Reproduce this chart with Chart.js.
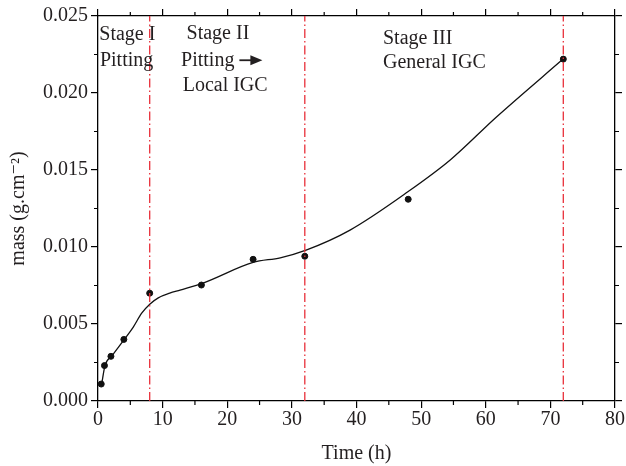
<!DOCTYPE html>
<html>
<head>
    <meta charset="utf-8">
    <title>Mass vs Time</title>
    <script src="https://cdn.jsdelivr.net/npm/chart.js@4.4.6/dist/chart.umd.min.js"></script>
    <style>
        html, body { margin: 0; padding: 0; background: #fff; }
        #wrap { width: 626px; height: 466px; }
    </style>
</head>
<body>
    <div id="wrap"><canvas id="myChart"></canvas></div>
    <script>
        // measured points
        const timeHours = [0.5, 1, 2, 4, 8, 16, 24, 32, 48, 72]
        const massValues = [0.0011, 0.0023, 0.0029, 0.0040, 0.0070, 0.00753, 0.0092, 0.0094, 0.0131, 0.0222]
        // fitted curve
        const curveTime = [0.57, 1.08, 2.1, 4.07, 5.46, 6.76, 8.05, 9.33, 11.1, 12.7, 16.25, 24.0, 28.2, 32.2, 39.0, 48.0, 54.5, 61.7, 72.1]
        const curveMass = [0.0011, 0.0023, 0.0029, 0.0040, 0.0048, 0.0057, 0.0063, 0.0067, 0.0070, 0.0072, 0.00766, 0.0090, 0.0093, 0.0098, 0.0111, 0.0136, 0.01565, 0.01846, 0.02225]
        // stage boundaries
        const stageBounds = [8, 32, 72]
        const xTicks = [0, 10, 20, 30, 40, 50, 60, 70, 80]
        const yTicks = [0, 0.005, 0.010, 0.015, 0.020, 0.025]

        const FONT = "'Liberation Serif', 'DejaVu Serif', serif"
        const RED = "rgb(232, 48, 58)"
        const INK = "#231f20"

        const stageText = [
            { text: "Stage I", x: 0.2, y: 0.02344 },
            { text: "Pitting", x: 0.3, y: 0.02177 },
            { text: "Stage II", x: 13.7, y: 0.02349 },
            { text: "Pitting", x: 12.85, y: 0.02177, arrow: true },
            { text: "Local IGC", x: 13.1, y: 0.02015 },
            { text: "Stage III", x: 44.1, y: 0.02316 },
            { text: "General IGC", x: 44.1, y: 0.02164 },
        ]

        const boundaryDatasets = stageBounds.map(b => ({
            type: "line",
            data: [{ x: b, y: 0 }, { x: b, y: 0.025 }],
            borderColor: RED,
            borderWidth: 1.3,
            borderDash: [9, 3, 1.5, 3],
            pointRadius: 0,
            fill: false,
        }))

        const extras = {
            id: "extras",
            afterDatasetsDraw(chart) {
                const ctx = chart.ctx
                const x = chart.scales.x
                const y = chart.scales.y
                const area = chart.chartArea
                ctx.save()
                // minor ticks
                ctx.strokeStyle = "#000"
                ctx.lineWidth = 1.2
                ctx.beginPath()
                for (let v = 5; v < 80; v += 10) {
                    const px = x.getPixelForValue(v)
                    ctx.moveTo(px, area.bottom); ctx.lineTo(px, area.bottom + 4)
                    ctx.moveTo(px, area.top); ctx.lineTo(px, area.top - 4)
                }
                for (let v = 0.0025; v < 0.025; v += 0.005) {
                    const py = y.getPixelForValue(v)
                    ctx.moveTo(area.left, py); ctx.lineTo(area.left - 4, py)
                    ctx.moveTo(area.right, py); ctx.lineTo(area.right + 4, py)
                }
                ctx.stroke()
                // stage labels
                ctx.fillStyle = INK
                ctx.strokeStyle = INK
                ctx.font = "20px " + FONT
                ctx.textBaseline = "alphabetic"
                ctx.textAlign = "left"
                stageText.forEach(s => {
                    const px = x.getPixelForValue(s.x)
                    const py = y.getPixelForValue(s.y)
                    ctx.fillText(s.text, px, py)
                    if (s.arrow) {
                        const start = px + ctx.measureText(s.text).width + 5
                        const mid = py - 5.5
                        ctx.beginPath()
                        ctx.lineWidth = 1.8
                        ctx.moveTo(start, mid); ctx.lineTo(start + 13, mid)
                        ctx.stroke()
                        ctx.beginPath()
                        ctx.moveTo(start + 23, mid)
                        ctx.lineTo(start + 11, mid - 5)
                        ctx.lineTo(start + 11, mid + 5)
                        ctx.closePath()
                        ctx.fill()
                    }
                })
                ctx.restore()
            },
        }

        const element = document.getElementById("myChart")
        const axisGrid = { drawOnChartArea: false, tickLength: 7, color: "#000", lineWidth: 1.2 }
        const axisBorder = { color: "#000", width: 1.3 }
        const config = {
            type: "scatter",
            data: {
                datasets: [
                    ...boundaryDatasets,
                    {
                        type: "line",
                        label: "fit",
                        data: curveTime.map((t, i) => ({ x: t, y: curveMass[i] })),
                        borderColor: "#111",
                        borderWidth: 1.3,
                        cubicInterpolationMode: "monotone",
                        pointRadius: 0,
                        fill: false,
                    },
                    {
                        label: "mass",
                        data: timeHours.map((t, i) => ({ x: t, y: massValues[i] })),
                        backgroundColor: "#111",
                        borderColor: "#111",
                        pointRadius: 3,
                    },
                ],
            },
            options: {
                responsive: true,
                maintainAspectRatio: false,
                animation: false,
                layout: { padding: 0 },
                plugins: {
                    legend: { display: false },
                    tooltip: { enabled: false },
                },
                scales: {
                    x: {
                        type: "linear",
                        position: "bottom",
                        min: 0,
                        max: 80,
                        afterBuildTicks: s => { s.ticks = xTicks.map(v => ({ value: v })) },
                        afterFit: s => { s.height = 65 },
                        grid: axisGrid,
                        border: axisBorder,
                        ticks: { color: INK, font: { family: FONT, size: 20 }, padding: 0, maxRotation: 0 },
                        title: { display: true, text: "Time (h)", color: INK, font: { family: FONT, size: 20 }, padding: { top: 6, bottom: 0 } },
                    },
                    x2: {
                        type: "linear",
                        position: "top",
                        min: 0,
                        max: 80,
                        afterBuildTicks: s => { s.ticks = xTicks.map(v => ({ value: v })) },
                        afterFit: s => { s.height = 16 },
                        grid: axisGrid,
                        border: axisBorder,
                        ticks: { display: false },
                    },
                    y: {
                        type: "linear",
                        position: "left",
                        min: 0,
                        max: 0.025,
                        afterBuildTicks: s => { s.ticks = yTicks.map(v => ({ value: v })) },
                        afterFit: s => { s.width = 98 },
                        grid: axisGrid,
                        border: axisBorder,
                        ticks: { color: INK, font: { family: FONT, size: 20 }, padding: 3, callback: v => v.toFixed(3) },
                        title: { display: true, text: "mass (g.cm\u207B\u00B2)", color: INK, font: { family: FONT, size: 20 }, padding: { top: 7, bottom: 0 } },
                    },
                    y2: {
                        type: "linear",
                        position: "right",
                        min: 0,
                        max: 0.025,
                        afterBuildTicks: s => { s.ticks = yTicks.map(v => ({ value: v })) },
                        afterFit: s => { s.width = 11 },
                        grid: axisGrid,
                        border: axisBorder,
                        ticks: { display: false },
                    },
                },
            },
            plugins: [extras],
        }
        const chart = new Chart(element, config)
    </script>
</body>
</html>
